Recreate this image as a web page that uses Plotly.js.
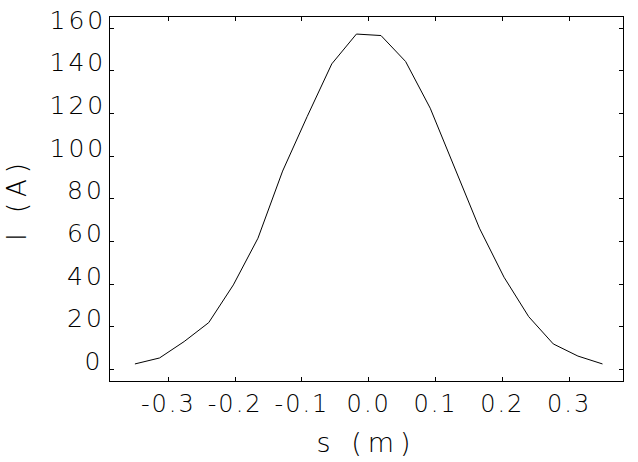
<!DOCTYPE html>
<html>
<head>
<meta charset="utf-8">
<script src="https://cdn.plot.ly/plotly-3.0.1.min.js"></script>
<style>
html,body{margin:0;padding:0;background:#fff;}
#chart{width:638px;height:462px;}
#chart .xtitle, #chart .ytitle{letter-spacing:6px;}
#chart .xtick text{letter-spacing:2px;}
#chart .annotation-text{letter-spacing:3px;}
</style>
</head>
<body>
<div id="chart"></div>
<script>
// Positions s (m) and current I (A)
var sValues = [-0.3500, -0.3132, -0.2763, -0.2395, -0.2026, -0.1658, -0.1289, -0.0921, -0.0553, -0.0184,
               0.0184, 0.0553, 0.0921, 0.1289, 0.1658, 0.2026, 0.2395, 0.2763, 0.3132, 0.3500];
var iValues = [2.5, 5.3, 13.0, 21.9, 39.6, 61.5, 93.0, 118.6, 143.3, 157.3,
               156.6, 144.4, 122.5, 94.5, 66.2, 43.2, 24.7, 11.9, 6.2, 2.5];
var xTickVals = [-0.3, -0.2, -0.1, 0.0, 0.1, 0.2, 0.3];
var xTickText = ["-0.3", "-0.2", "-0.1", "0.0", "0.1", "0.2", "0.3"];
var yTickVals = [0, 20, 40, 60, 80, 100, 120, 140, 160];
var yTickText = ["0", "20", "40", "60", "80", "100", "120", "140", "160"];

var fontFam = "DejaVu Sans, sans-serif";

var trace = {
  x: sValues, y: iValues, type: "scatter", mode: "lines",
  line: {color: "#000", width: 1}, hoverinfo: "skip"
};

// y tick labels drawn slightly above their ticks, as in the reference
var yLabelAnnotations = yTickVals.map(function (v, i) {
  return {
    xref: "paper", x: 0, xanchor: "right", xshift: -6,
    yref: "y", y: v, yanchor: "middle", yshift: 8,
    text: yTickText[i], showarrow: false,
    font: {family: fontFam, size: 25, color: "#000", weight: 200}
  };
});

var layout = {
  width: 638, height: 462,
  margin: {l: 110, r: 15, t: 17, b: 81},
  paper_bgcolor: "#fff", plot_bgcolor: "#fff",
  showlegend: false,
  font: {family: fontFam, color: "#000", weight: 200},
  annotations: yLabelAnnotations,
  xaxis: {
    range: [-0.3873, 0.3807],
    tickvals: xTickVals, ticktext: xTickText,
    ticks: "inside", ticklen: 4, tickwidth: 1, tickcolor: "#000",
    showline: true, linecolor: "#000", linewidth: 1, mirror: "ticks",
    showgrid: false, zeroline: false,
    tickfont: {family: fontFam, size: 24, color: "#000", weight: 200},
    ticklabelstandoff: 1,
    title: {text: "s (m)", font: {family: fontFam, size: 27, color: "#000", weight: 200}, standoff: 16}
  },
  yaxis: {
    range: [-5.5, 165.3],
    tickvals: yTickVals, showticklabels: false,
    ticks: "inside", ticklen: 4, tickwidth: 1, tickcolor: "#000",
    showline: true, linecolor: "#000", linewidth: 1, mirror: "ticks",
    showgrid: false, zeroline: false,
    title: {text: "I (A)", font: {family: fontFam, size: 26, color: "#000", weight: 200}, standoff: 74}
  }
};

Plotly.newPlot("chart", [trace], layout, {staticPlot: true, displayModeBar: false});
</script>
</body>
</html>
